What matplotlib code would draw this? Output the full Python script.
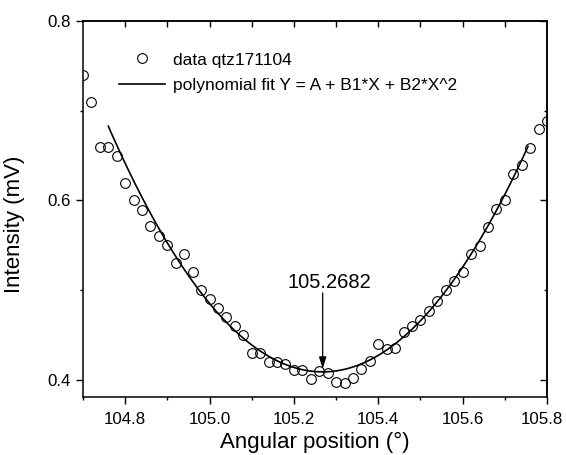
import matplotlib
matplotlib.use("Agg")
import matplotlib.pyplot as plt
import matplotlib.transforms as mtransforms
import numpy as np

plt.rcParams['font.family'] = ['Liberation Sans', 'DejaVu Sans']

# measured data (angle in degrees, intensity in mV)
angle = [104.70, 104.72, 104.74, 104.76, 104.78, 104.80, 104.82, 104.84, 104.86, 104.88,
         104.90, 104.92, 104.94, 104.96, 104.98, 105.00, 105.02, 105.04, 105.06, 105.08,
         105.10, 105.12, 105.14, 105.16, 105.18, 105.20, 105.22, 105.24, 105.26, 105.28,
         105.30, 105.32, 105.34, 105.36, 105.38, 105.40, 105.42, 105.44, 105.46, 105.48,
         105.50, 105.52, 105.54, 105.56, 105.58, 105.60, 105.62, 105.64, 105.66, 105.68,
         105.70, 105.72, 105.74, 105.76, 105.78, 105.80]
intensity = [0.740, 0.710, 0.660, 0.660, 0.650, 0.620, 0.600, 0.589, 0.571, 0.560,
             0.550, 0.530, 0.540, 0.520, 0.500, 0.490, 0.480, 0.470, 0.460, 0.450,
             0.430, 0.430, 0.420, 0.420, 0.418, 0.411, 0.411, 0.401, 0.410, 0.408,
             0.398, 0.397, 0.402, 0.412, 0.421, 0.440, 0.435, 0.436, 0.453, 0.460,
             0.467, 0.477, 0.488, 0.500, 0.510, 0.520, 0.540, 0.549, 0.570, 0.590,
             0.600, 0.630, 0.639, 0.659, 0.680, 0.689]

# fit result: vertex position, minimum value, curvature B2
fit_start = 104.76
fit_end = 105.755
peak_label = "105.2682"
peak_pos = 105.2682
fit_min = 0.409
B2 = 1.06
B1 = -2 * B2 * peak_pos
A = fit_min + B2 * peak_pos ** 2

x = np.array(angle)
y = np.array(intensity)

xf = np.linspace(fit_start, fit_end, 200)
yf = A + B1 * xf + B2 * xf ** 2

fig = plt.figure(figsize=(5.66, 4.55), dpi=100)
ax = fig.add_axes([83 / 566, 1 - 397 / 455, 464 / 566, 376 / 455])

ax.plot(x, y, 'o', mfc='none', mec='black', ms=7, mew=0.8, label='data qtz171104')
ax.plot(xf, yf, '-', color='black', lw=1.2, label='polynomial fit Y = A + B1*X + B2*X^2')

ax.set_xlim(104.7, 105.8)
ax.set_ylim(0.381, 0.8)
ax.set_xticks([104.8, 105.0, 105.2, 105.4, 105.6, 105.8])
ax.set_xticks([104.7, 104.9, 105.1, 105.3, 105.5, 105.7], minor=True)
ax.set_yticks([0.4, 0.6, 0.8])
ax.set_yticks([0.5, 0.7], minor=True)
ax.set_yticklabels(['0.4', '0.6', '0.8'])

ax.tick_params(which='major', direction='out', length=5, width=1, labelsize=12.2)
ax.tick_params(which='minor', direction='out', length=2.5, width=1)
ax.tick_params(axis='x', which='major', pad=5.5)
for s in ax.spines.values():
    s.set_linewidth(1.1)

# keep the last x label inside the figure
last = ax.get_xticklabels()[-1]
last.set_transform(last.get_transform() +
                   mtransforms.ScaledTranslation(-4 / 72, 0, fig.dpi_scale_trans))

# inward ticks on top and right
top = ax.secondary_xaxis('top')
top.set_xticks([104.8, 104.9, 105.0, 105.1, 105.2, 105.3, 105.4, 105.5, 105.6, 105.7])
top.tick_params(direction='in', length=4, width=1, labeltop=False)
top.spines['top'].set_linewidth(1.1)
right = ax.secondary_yaxis('right')
right.set_yticks([0.4, 0.6, 0.8])
right.set_yticks([0.5, 0.7], minor=True)
right.tick_params(which='major', direction='in', length=5, width=1, labelright=False)
right.tick_params(which='minor', direction='in', length=2.5, width=1, labelright=False)
right.spines['right'].set_linewidth(1.1)

ax.set_xlabel('Angular position (°)', fontsize=16, labelpad=4)
ax.set_ylabel('Intensity (mV)', fontsize=16)
ax.yaxis.set_label_coords(-0.125, 0.46)

# peak marker
ax.text(105.283, 0.502, peak_label, ha='center', va='baseline', fontsize=14.5)
ax.annotate('', xy=(peak_pos, 0.4125), xytext=(peak_pos, 0.497),
            arrowprops=dict(arrowstyle='-|>,head_length=0.7,head_width=0.22',
                            color='black', lw=0.9, shrinkA=0, shrinkB=0))

ax.legend(loc='upper left', bbox_to_anchor=(0.0776, 0.9165), frameon=False,
          fontsize=12.5, handlelength=2.65, handletextpad=0.45, labelspacing=0.59,
          borderpad=0, borderaxespad=0)

fig.savefig('out.png', dpi=100)
